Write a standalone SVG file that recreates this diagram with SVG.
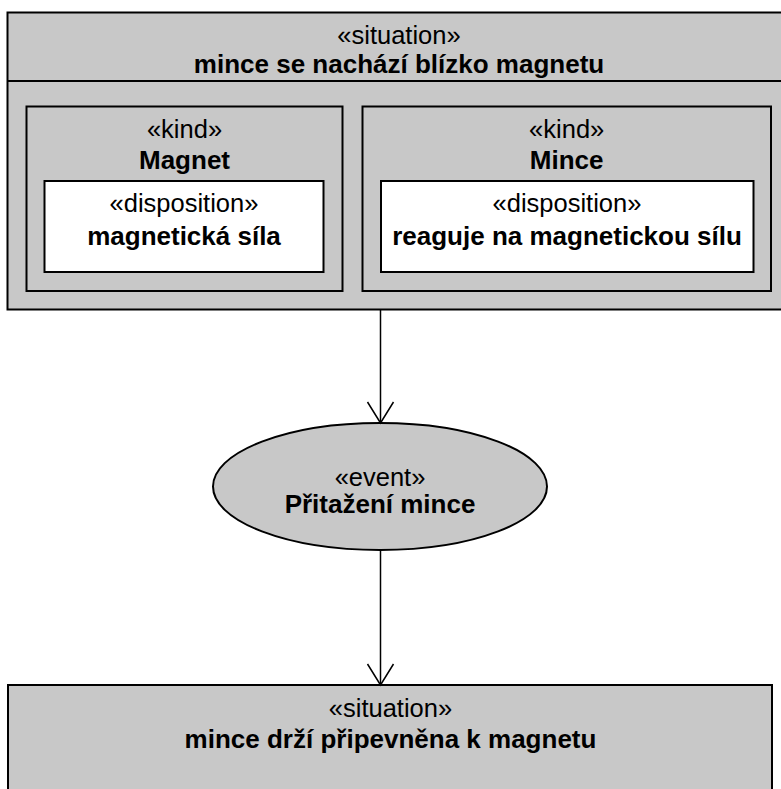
<svg xmlns="http://www.w3.org/2000/svg" width="781" height="789" viewBox="0 0 781 789">
  <style>
    .box { fill: #c8c8c8; stroke: #000; stroke-width: 2; }
    .inner { fill: #ffffff; stroke: #000; stroke-width: 2; }
    .st { font-family: "Liberation Sans", Arial, sans-serif; font-size: 25.5px; text-anchor: middle; fill: #000; }
    .nm { font-family: "Liberation Sans", Arial, sans-serif; font-size: 26px; font-weight: bold; text-anchor: middle; fill: #000; }
    .edge { fill: none; stroke: #000; stroke-width: 1.5; }
  </style>
  <defs>
    <!-- open V arrowhead, tip at the end of the line -->
    <marker id="open" viewBox="-23 -15 25 30" markerWidth="25" markerHeight="30" refX="0" refY="0" markerUnits="userSpaceOnUse" orient="auto">
      <path d="M-21,-13 L0,0 L-21,13" fill="none" stroke="#000" stroke-width="1.5"/>
    </marker>
  </defs>

  <g id="situation-near">
    <rect class="box" x="7.5" y="12.5" width="784" height="297"/>
    <line x1="7.5" y1="81" x2="791.5" y2="81" stroke="#000" stroke-width="2"/>
    <text class="st" x="399" y="44">«situation»</text>
    <text class="nm" x="399" y="73">mince se nachází blízko magnetu</text>
  </g>

  <g id="kind-magnet">
    <rect class="box" x="26.5" y="106.5" width="316" height="184.5"/>
    <text class="st" x="184.5" y="137.5">«kind»</text>
    <text class="nm" x="184.5" y="169">Magnet</text>
  </g>
  <g id="disposition-magnet">
    <rect class="inner" x="44.5" y="181" width="279" height="91"/>
    <text class="st" x="184" y="212">«disposition»</text>
    <text class="nm" x="184" y="245">magnetická síla</text>
  </g>

  <g id="kind-mince">
    <rect class="box" x="362.5" y="106.5" width="408.5" height="184.5"/>
    <text class="st" x="566.7" y="137.5">«kind»</text>
    <text class="nm" x="566.7" y="169">Mince</text>
  </g>
  <g id="disposition-mince">
    <rect class="inner" x="381" y="181" width="372.5" height="91"/>
    <text class="st" x="567" y="212">«disposition»</text>
    <text class="nm" x="567" y="245">reaguje na magnetickou sílu</text>
  </g>

  <g id="event">
    <ellipse class="box" cx="380" cy="486.5" rx="167" ry="63.5"/>
    <text class="st" x="380" y="486">«event»</text>
    <text class="nm" x="380" y="512.5">Přitažení mince</text>
  </g>

  <g id="situation-held">
    <rect class="box" x="8" y="685" width="764" height="120"/>
    <text class="st" x="390.5" y="717">«situation»</text>
    <text class="nm" x="390.5" y="748">mince drží připevněna k magnetu</text>
  </g>

  <g id="connectors">
    <line class="edge" x1="380.5" y1="310" x2="380.5" y2="423" marker-end="url(#open)"/>
    <line class="edge" x1="380.5" y1="550" x2="380.5" y2="685" marker-end="url(#open)"/>
  </g>
</svg>
